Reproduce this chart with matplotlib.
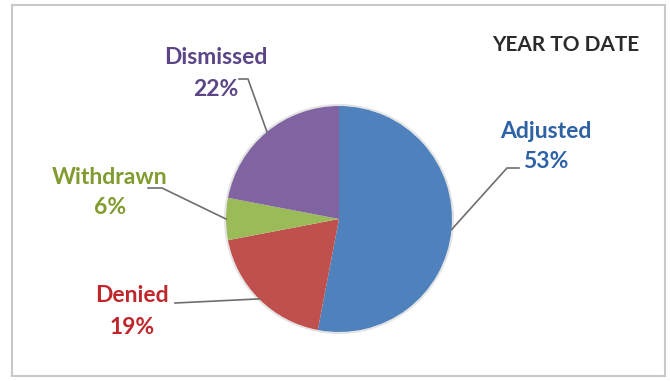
import matplotlib
matplotlib.use('Agg')
from matplotlib import pyplot as plt
from matplotlib.patches import Rectangle, Circle
import numpy as np

labels = ['Adjusted', 'Denied', 'Withdrawn', 'Dismissed']
values = [53, 19, 6, 22]
colors = ['#4F81BD', '#C0504D', '#9BBB59', '#8064A2']
text_colors = ['#2F62A5', '#C0272D', '#809B2E', '#5B4587']
title = 'YEAR TO DATE'

W, H = 670, 381
plt.rcParams['font.family'] = ['Lato', 'DejaVu Sans']

fig = plt.figure(figsize=(W / 100, H / 100), dpi=100)
ax = fig.add_axes([0, 0, 1, 1])

cx, cy, r = 339, H - 219, 113
# faint rim round the pie
ax.add_patch(Circle((cx, cy), r + 1, facecolor='none', edgecolor='#e4e4e4', lw=1.5, zorder=1))
wedges, _ = ax.pie(values, colors=colors, startangle=90, counterclock=False,
                   center=(cx, cy), radius=r, wedgeprops=dict(linewidth=0, zorder=2))

# label centres (name line, percent line) and leader line elbows, image coords
label_pos = [(546, 131, 162), (132, 295, 327), (110, 177, 208), (216, 58, 90)]
elbows = [[(519, 168), (507, 168)],
          [(175, 303)],
          [(148, 188), (162, 188)],
          [(239, 79), (248, 79)]]

for w, lab, v, tc, (lx, ly1, ly2), el in zip(wedges, labels, values, text_colors, label_pos, elbows):
    mid = np.radians((w.theta1 + w.theta2) / 2)
    ex, ey = cx + r * np.cos(mid), cy + r * np.sin(mid)
    xs = [p[0] for p in el] + [ex]
    ys = [H - p[1] for p in el] + [ey]
    ax.plot(xs, ys, color='#6e6e6e', lw=1.2, zorder=3)
    ax.text(lx, H - ly1, lab, color=tc, fontsize=16.5, fontweight='bold',
            ha='center', va='center')
    ax.text(lx, H - ly2, '%d%%' % v, color=tc, fontsize=16.5, fontweight='bold',
            ha='center', va='center')

ax.text(566, H - 45, title, color='#2b2b2b', fontsize=15, fontweight='bold',
        ha='center', va='center')

ax.add_patch(Rectangle((12, H - 376), 653, 371, facecolor='none', edgecolor='#c8c8c8', lw=1.5))

ax.set_xlim(0, W)
ax.set_ylim(0, H)
ax.set_aspect('equal')
ax.axis('off')
plt.savefig('out.png', dpi=100)
